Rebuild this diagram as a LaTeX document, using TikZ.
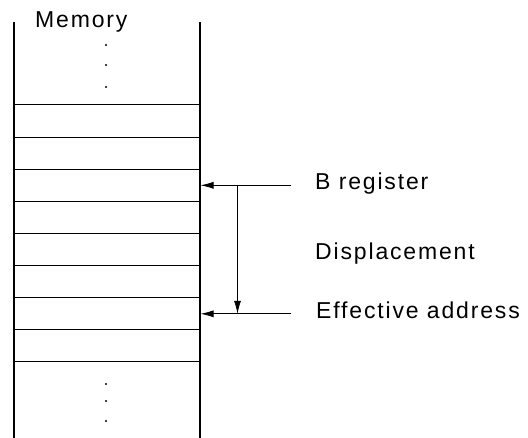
\documentclass[tikz,border=0pt]{standalone}
\usepackage{fontspec}
\setmainfont[LetterSpace=8]{Liberation Sans}
\usetikzlibrary{arrows.meta}

\begin{document}
\begin{tikzpicture}[x=1pt, y=-1pt,
      every node/.style = {font=\fontsize{23}{26}\selectfont},
      cell/.style = {draw, line width=1pt, minimum width=186pt,
        minimum height=32.125pt, inner sep=0pt},
      wall/.style = {line width=1.3pt},
      ptr/.style = {line width=0.8pt, -{Latex[length=13pt,width=7pt]}},
      regname/.style = {anchor=base west, inner sep=0pt}]
      \useasboundingbox (0,0) rectangle (528,438);
      % memory column
      \draw[wall] (14,22) -- (14,438);
      \draw[wall] (200,22) -- (200,438);
      \foreach \i in {1,...,8}
        \node[cell] (c\i) at (107, {105+32.125*(\i-0.5)}) {};
      \foreach \y in {45,65,87,384,401,421}
        \fill (106,\y) circle (1.2pt);
      \node[regname] (mem) at (35,28) {Memory};
      % addressing
      \coordinate (bstub) at ([xshift=90pt]c3.east);
      \coordinate (estub) at ([xshift=90pt]c7.east);
      \draw[ptr] (bstub) -- (c3.east);
      \draw[ptr] (estub) -- (c7.east);
      \draw[ptr] ([xshift=37pt]c3.east) -- ([xshift=37pt]c7.east);
      \node[regname] (breg) at (315,190) {B register};
      \node[regname] (disp) at (315,260) {Displacement};
      \node[regname] (eff) at (316,319) {Effective address};
\end{tikzpicture}
\end{document}
